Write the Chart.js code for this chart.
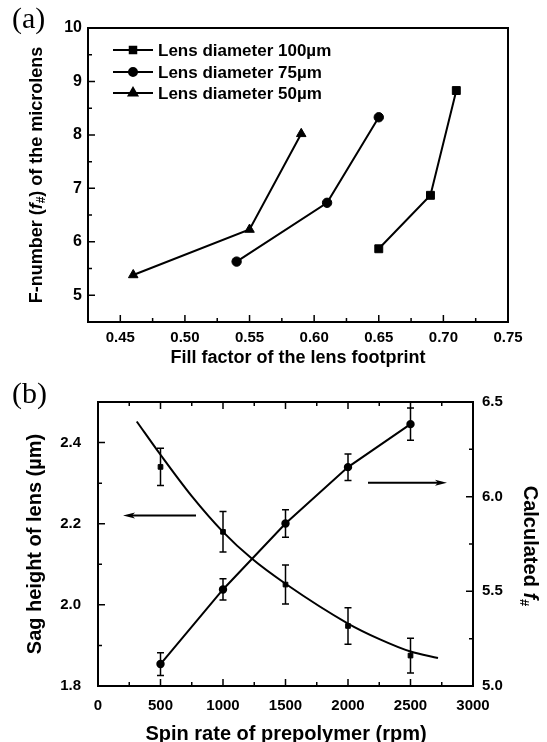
<!DOCTYPE html>
<html>
<head>
<meta charset="utf-8">
<script src="https://cdn.jsdelivr.net/npm/chart.js@4.4.0/dist/chart.umd.min.js"></script>
<style>
  body { margin: 0; background: #fff; }
  #wrap { position: relative; width: 547px; height: 742px; }
  canvas { position: absolute; left: 0; }
</style>
</head>
<body>
<div id="wrap">
  <canvas id="chartA" width="547" height="370" style="top:0"></canvas>
  <canvas id="chartB" width="547" height="372" style="top:370px"></canvas>
</div>
<script>
// ---- panel (a): F-number vs fill factor ----
const fillFactor100 = [0.65, 0.69, 0.71];
const fnum100 = [5.87, 6.87, 8.83];
const fillFactor75 = [0.54, 0.61, 0.65];
const fnum75 = [5.63, 6.73, 8.33];
const fillFactor50 = [0.46, 0.55, 0.59];
const fnum50 = [5.38, 6.23, 8.02];
const legendLabels = ['Lens diameter 100\u00b5m', 'Lens diameter 75\u00b5m', 'Lens diameter 50\u00b5m'];
const xTicksA = [0.45, 0.50, 0.55, 0.60, 0.65, 0.70, 0.75];
const yTicksA = [5, 6, 7, 8, 9, 10];

// ---- panel (b): sag height and f# vs spin rate ----
const spinRate = [500, 1000, 1500, 2000, 2500];
const sagHeight = [2.34, 2.18, 2.05, 1.948, 1.875];
const sagErr = [0.046, 0.05, 0.048, 0.045, 0.043];
const fNumber = [5.116, 5.51, 5.858, 6.156, 6.383];
const fNumberErr = [0.06, 0.056, 0.073, 0.07, 0.085];
const sagFitRate = [310, 500, 750, 1000, 1230, 1500, 2000, 2256, 2500, 2720];
const sagFitHeight = [2.452, 2.37, 2.268, 2.18, 2.114, 2.052, 1.954, 1.915, 1.885, 1.869];
const xTicksB = [0, 500, 1000, 1500, 2000, 2500, 3000];
const ySagTicks = [1.8, 2.0, 2.2, 2.4];
const yFTicks = [5.0, 5.5, 6.0, 6.5];

const SANS = '"Liberation Sans", Arial, Helvetica, sans-serif';
const SERIF = '"Liberation Serif", "Times New Roman", serif';

function pts(xs, ys) {
  return xs.map((x, i) => ({ x: x, y: ys[i] }));
}

// text with mixed fonts (for the f# subscript)
function drawRich(ctx, parts, x, y, angle, align) {
  ctx.save();
  ctx.translate(x, y);
  ctx.rotate(angle);
  let total = 0;
  parts.forEach(p => { ctx.font = p.font; p.w = ctx.measureText(p.text).width; total += p.w; });
  let cx = align === 'left' ? 0 : -total / 2;
  ctx.textBaseline = 'middle';
  ctx.textAlign = 'left';
  ctx.fillStyle = '#000';
  parts.forEach(p => { ctx.font = p.font; ctx.fillText(p.text, cx, p.dy || 0); cx += p.w; });
  ctx.restore();
}

function minorValues(major, min, max) {
  const step = major[1] - major[0];
  const out = [];
  if (major[0] - step / 2 > min + 1e-9) out.push(major[0] - step / 2);
  major.forEach(v => { if (v + step / 2 < max - 1e-9) out.push(v + step / 2); });
  return out;
}

// inward tick marks
function tickMarks(chart, scaleId, major, side) {
  const s = chart.scales[scaleId], a = chart.chartArea, ctx = chart.ctx;
  const minor = minorValues(major, s.min, s.max);
  ctx.save();
  ctx.strokeStyle = '#000';
  ctx.lineWidth = 1.5;
  ctx.beginPath();
  [[major, 7], [minor, 4]].forEach(([vals, len]) => {
    vals.forEach(v => {
      const p = s.getPixelForValue(v);
      if (side === 'bottom') { ctx.moveTo(p, a.bottom); ctx.lineTo(p, a.bottom - len); }
      if (side === 'top') { ctx.moveTo(p, a.top); ctx.lineTo(p, a.top + len); }
      if (side === 'left') { ctx.moveTo(a.left, p); ctx.lineTo(a.left + len, p); }
      if (side === 'right') { ctx.moveTo(a.right, p); ctx.lineTo(a.right - len, p); }
    });
  });
  ctx.stroke();
  ctx.restore();
}

function frame(chart) {
  const a = chart.chartArea, ctx = chart.ctx;
  ctx.save();
  ctx.strokeStyle = '#000';
  ctx.lineWidth = 2;
  ctx.strokeRect(a.left, a.top, a.width, a.height);
  ctx.restore();
}

function marker(ctx, style, r, x, y) {
  ctx.save();
  ctx.fillStyle = '#000';
  ctx.strokeStyle = '#000';
  Chart.helpers.drawPoint(ctx, { pointStyle: style, radius: r, rotation: 0, borderWidth: 1 }, x, y);
  ctx.restore();
}

const tickFont = { family: SANS, size: 15, weight: 'bold' };
const noGrid = { display: false, drawTicks: false };

// ---------------- chart (a) ----------------
const decorA = {
  id: 'decorA',
  afterDraw(chart) {
    const ctx = chart.ctx;
    frame(chart);
    tickMarks(chart, 'x', xTicksA, 'bottom');
    tickMarks(chart, 'y', yTicksA, 'left');

    ctx.save();
    ctx.fillStyle = '#000';
    ctx.font = '30px ' + SERIF;
    ctx.textAlign = 'left';
    ctx.textBaseline = 'middle';
    ctx.fillText('(a)', 12, 20);

    ctx.font = 'bold 18px ' + SANS;
    ctx.textAlign = 'center';
    ctx.fillText('Fill factor of the lens footprint', 298, 358);
    ctx.restore();

    const b = 'bold 18px ' + SANS;
    drawRich(ctx, [
      { text: 'F-number (', font: b },
      { text: 'f', font: 'italic bold 18px ' + SANS },
      { text: '#', font: 'bold 12px ' + SANS, dy: 5 },
      { text: ') of the microlens', font: b }
    ], 37, 175, -Math.PI / 2);

    // legend
    const styles = ['rect', 'circle', 'triangle'];
    const radii = [4.6, 4, 5];
    const rows = [50, 72, 93];
    ctx.save();
    legendLabels.forEach((lab, i) => {
      ctx.strokeStyle = '#000';
      ctx.lineWidth = 2;
      ctx.beginPath();
      ctx.moveTo(113, rows[i]);
      ctx.lineTo(153, rows[i]);
      ctx.stroke();
      marker(ctx, styles[i], radii[i], 133, rows[i]);
      ctx.fillStyle = '#000';
      ctx.font = 'bold 17px ' + SANS;
      ctx.textAlign = 'left';
      ctx.textBaseline = 'middle';
      ctx.fillText(lab, 158, rows[i] + 1);
    });
    ctx.restore();
  }
};

const lineDs = (label, data, style, r) => ({
  label: label,
  data: data,
  showLine: true,
  borderColor: '#000',
  borderWidth: 2,
  pointStyle: style,
  pointRadius: r,
  pointBackgroundColor: '#000',
  pointBorderColor: '#000',
  pointBorderWidth: 1
});

new Chart(document.getElementById('chartA'), {
  type: 'scatter',
  data: {
    datasets: [
      lineDs(legendLabels[0], pts(fillFactor100, fnum100), 'rect', 5.6),
      lineDs(legendLabels[1], pts(fillFactor75, fnum75), 'circle', 4.7),
      lineDs(legendLabels[2], pts(fillFactor50, fnum50), 'triangle', 5.5)
    ]
  },
  options: {
    responsive: false,
    animation: false,
    layout: { padding: { top: 28, right: 39, left: 0, bottom: 0 } },
    plugins: { legend: { display: false }, tooltip: { enabled: false } },
    scales: {
      x: {
        type: 'linear', min: 0.425, max: 0.75,
        grid: noGrid, border: { display: false },
        afterBuildTicks: s => { s.ticks = xTicksA.map(v => ({ value: v })); },
        afterFit: s => { s.height = 48; },
        ticks: { font: tickFont, color: '#000', padding: 7, autoSkip: false, maxRotation: 0,
          callback: v => Number(v).toFixed(2) }
      },
      y: {
        type: 'linear', min: 4.5, max: 10,
        grid: noGrid, border: { display: false },
        afterBuildTicks: s => { s.ticks = yTicksA.map(v => ({ value: v })); },
        afterFit: s => { s.width = 88; },
        ticks: { font: { family: SANS, size: 16, weight: 'bold' }, color: '#000', padding: 6, autoSkip: false,
          callback: v => String(v) }
      }
    }
  },
  plugins: [decorA]
});

// ---------------- chart (b) ----------------
function arrow(ctx, x1, y1, x2, y2) {
  const ang = Math.atan2(y2 - y1, x2 - x1);
  const L = 12, W = 3;
  ctx.save();
  ctx.strokeStyle = '#000';
  ctx.fillStyle = '#000';
  ctx.lineWidth = 2;
  ctx.beginPath();
  ctx.moveTo(x1, y1);
  ctx.lineTo(x2 - L * Math.cos(ang) * 0.6, y2 - L * Math.sin(ang) * 0.6);
  ctx.stroke();
  ctx.translate(x2, y2);
  ctx.rotate(ang);
  ctx.beginPath();
  ctx.moveTo(0, 0);
  ctx.lineTo(-L, -W);
  ctx.lineTo(-L * 0.75, 0);
  ctx.lineTo(-L, W);
  ctx.closePath();
  ctx.fill();
  ctx.restore();
}

function errorBars(chart, xs, ys, errs, yId) {
  const sx = chart.scales.x, sy = chart.scales[yId], ctx = chart.ctx;
  ctx.save();
  ctx.strokeStyle = '#000';
  ctx.lineWidth = 1.5;
  ctx.beginPath();
  xs.forEach((x, i) => {
    const px = sx.getPixelForValue(x);
    const top = sy.getPixelForValue(ys[i] + errs[i]);
    const bot = sy.getPixelForValue(ys[i] - errs[i]);
    ctx.moveTo(px, top); ctx.lineTo(px, bot);
    ctx.moveTo(px - 3.5, top); ctx.lineTo(px + 3.5, top);
    ctx.moveTo(px - 3.5, bot); ctx.lineTo(px + 3.5, bot);
  });
  ctx.stroke();
  ctx.restore();
}

const decorB = {
  id: 'decorB',
  beforeDatasetsDraw(chart) {
    errorBars(chart, spinRate, sagHeight, sagErr, 'ySag');
    errorBars(chart, spinRate, fNumber, fNumberErr, 'yF');
  },
  afterDraw(chart) {
    const ctx = chart.ctx, sx = chart.scales.x, sl = chart.scales.ySag, sr = chart.scales.yF;
    frame(chart);
    tickMarks(chart, 'x', xTicksB, 'bottom');
    tickMarks(chart, 'x', xTicksB, 'top');
    tickMarks(chart, 'ySag', ySagTicks, 'left');
    tickMarks(chart, 'yF', yFTicks, 'right');

    // arrows pointing to the axis each curve belongs to
    arrow(ctx, sx.getPixelForValue(784), sl.getPixelForValue(2.22), sx.getPixelForValue(200), sl.getPixelForValue(2.22));
    arrow(ctx, sx.getPixelForValue(2160), sr.getPixelForValue(6.074), sx.getPixelForValue(2792), sr.getPixelForValue(6.074));

    ctx.save();
    ctx.fillStyle = '#000';
    ctx.font = '30px ' + SERIF;
    ctx.textAlign = 'left';
    ctx.textBaseline = 'middle';
    ctx.fillText('(b)', 12, 25);

    ctx.font = 'bold 20px ' + SANS;
    ctx.textAlign = 'center';
    ctx.fillText('Spin rate of prepolymer (rpm)', 286, 364);
    ctx.restore();

    drawRich(ctx, [{ text: 'Sag height of lens (\u00b5m)', font: 'bold 20px ' + SANS }], 35, 174, -Math.PI / 2);
    drawRich(ctx, [
      { text: 'Calculated ', font: 'bold 20px ' + SANS },
      { text: 'f', font: 'italic bold 20px ' + SANS },
      { text: '#', font: 'bold 13px ' + SANS, dy: 6 }
    ], 530, 176, Math.PI / 2);
  }
};

new Chart(document.getElementById('chartB'), {
  type: 'scatter',
  data: {
    datasets: [
      {
        label: 'Sag height fit',
        data: pts(sagFitRate, sagFitHeight),
        yAxisID: 'ySag',
        showLine: true,
        borderColor: '#000',
        borderWidth: 2,
        pointRadius: 0,
        tension: 0.4,
        cubicInterpolationMode: 'monotone'
      },
      {
        label: 'Sag height',
        data: pts(spinRate, sagHeight),
        yAxisID: 'ySag',
        showLine: false,
        pointStyle: 'rect',
        pointRadius: 3.3,
        pointBackgroundColor: '#000',
        pointBorderColor: '#000'
      },
      {
        label: 'Calculated f#',
        data: pts(spinRate, fNumber),
        yAxisID: 'yF',
        showLine: true,
        borderColor: '#000',
        borderWidth: 2,
        pointStyle: 'circle',
        pointRadius: 3.2,
        pointBackgroundColor: '#000',
        pointBorderColor: '#000'
      }
    ]
  },
  options: {
    responsive: false,
    animation: false,
    layout: { padding: { top: 32, right: 0, left: 0, bottom: 0 } },
    plugins: { legend: { display: false }, tooltip: { enabled: false } },
    scales: {
      x: {
        type: 'linear', min: 0, max: 3000,
        grid: noGrid, border: { display: false },
        afterBuildTicks: s => { s.ticks = xTicksB.map(v => ({ value: v })); },
        afterFit: s => { s.height = 56; },
        ticks: { font: tickFont, color: '#000', padding: 11, autoSkip: false, maxRotation: 0,
          callback: v => String(v) }
      },
      ySag: {
        type: 'linear', position: 'left', min: 1.8, max: 2.5,
        grid: noGrid, border: { display: false },
        afterBuildTicks: s => { s.ticks = ySagTicks.map(v => ({ value: v })); },
        afterFit: s => { s.width = 98; },
        ticks: { font: tickFont, color: '#000', padding: 17, autoSkip: false,
          callback: v => Number(v).toFixed(1) }
      },
      yF: {
        type: 'linear', position: 'right', min: 5.0, max: 6.5,
        grid: noGrid, border: { display: false },
        afterBuildTicks: s => { s.ticks = yFTicks.map(v => ({ value: v })); },
        afterFit: s => { s.width = 74; },
        ticks: { font: tickFont, color: '#000', padding: 9, autoSkip: false,
          callback: v => Number(v).toFixed(1) }
      }
    }
  },
  plugins: [decorB]
});
</script>
</body>
</html>
